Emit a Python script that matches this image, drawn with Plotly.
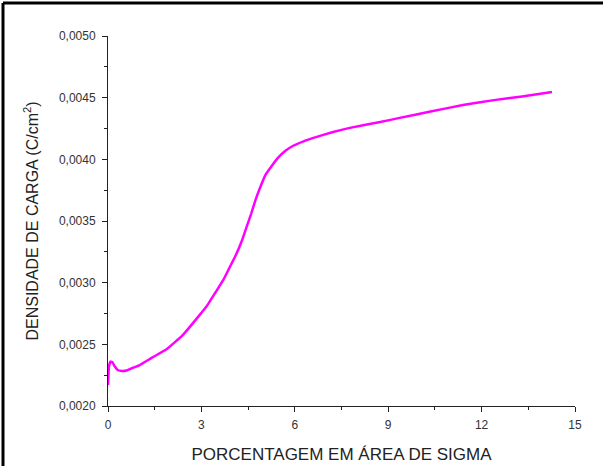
import plotly.graph_objects as go

# Charge density vs. percentage of sigma area
area_pct = [0.0, 0.03, 0.08, 0.14, 0.22, 0.32, 0.45, 0.6, 0.8, 1.02, 1.4, 1.88,
            2.4, 2.94, 3.2, 3.45, 3.7, 3.9, 4.1, 4.3, 4.45, 4.6, 4.75, 4.9, 5.05,
            5.24, 5.45, 5.7, 5.95, 6.3, 6.68, 7.2, 7.73, 8.74, 9.33, 10.4, 11.4,
            12.4, 13.3, 14.26]
charge_density = [0.00217, 0.00232, 0.00236, 0.002355, 0.00232, 0.00229, 0.002284,
                  0.002288, 0.00231, 0.002332, 0.00239, 0.00246, 0.002575, 0.002737,
                  0.00282, 0.00292, 0.00302, 0.00312, 0.00322, 0.00334, 0.00345,
                  0.00356, 0.00368, 0.00378, 0.00387, 0.00394, 0.00401, 0.00407,
                  0.00411, 0.004148, 0.00418, 0.00422, 0.004253, 0.004302, 0.004334,
                  0.00439, 0.00444, 0.00448, 0.00451, 0.004546]

PLOT_W, PLOT_H = 467, 370
M_L, M_T = 108, 36

fig = go.Figure()
fig.add_trace(go.Scatter(
    x=area_pct, y=charge_density, mode="lines",
    line=dict(color="#ff00ff", width=2.5, shape="spline", smoothing=0.3),
    showlegend=False,
))

tick_font = dict(family="Liberation Sans, Arial, sans-serif", size=12, color="#333333")

fig.update_xaxes(
    range=[0, 15], dtick=3, tick0=0, automargin=False,
    ticks="outside", ticklen=5, tickwidth=1, tickcolor="#222",
    minor=dict(dtick=1.5, ticks="outside", ticklen=3, tickcolor="#222"),
    showline=True, linecolor="#222", linewidth=1,
    showgrid=False, zeroline=False,
    tickfont=tick_font, ticklabelstandoff=3,
    title=dict(text="PORCENTAGEM EM ÁREA DE SIGMA",
               font=dict(family="Liberation Sans, Arial, sans-serif", size=17, color="#222222"),
               standoff=16),
)
fig.update_yaxes(
    range=[0.002, 0.005], dtick=0.0005, tick0=0.002, tickformat=".4f", automargin=False,
    ticks="outside", ticklen=5, tickwidth=1, tickcolor="#222",
    minor=dict(dtick=0.00025, ticks="outside", ticklen=3, tickcolor="#222"),
    showline=True, linecolor="#222", linewidth=1,
    showgrid=False, zeroline=False,
    tickfont=tick_font, ticklabelstandoff=4,
    title=dict(text="DENSIDADE DE CARGA (C/cm<sup>2</sup>)",
               font=dict(family="Liberation Sans, Arial, sans-serif", size=16, color="#222222"),
               standoff=16),
)

fig.update_layout(
    width=603, height=466,
    margin=dict(l=M_L, r=28, t=M_T, b=60),
    paper_bgcolor="white", plot_bgcolor="white",
    separators=",.",
)

# Frame lines along the left and top edges of the figure
left_x = (3 - M_L) / PLOT_W
top_y = 1 + (M_T - 3) / PLOT_H
fig.add_shape(type="line", xref="paper", yref="paper",
              x0=left_x, x1=left_x, y0=-0.3, y1=top_y,
              line=dict(color="black", width=3))
fig.add_shape(type="line", xref="paper", yref="paper",
              x0=left_x, x1=1.2, y0=top_y, y1=top_y,
              line=dict(color="black", width=3))

fig.write_html("out.html")
